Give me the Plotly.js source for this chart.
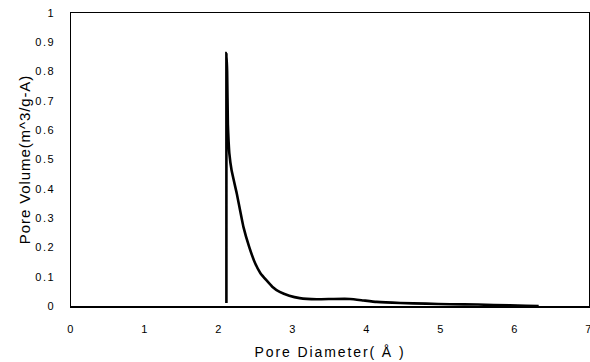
<!DOCTYPE html>
<html><head><meta charset="utf-8">
<script src="https://cdn.plot.ly/plotly-3.0.1.min.js"></script>
<style>
html,body{margin:0;padding:0;background:#fff}#chart{width:590px;height:362px}
.xtick text,.ytick text{letter-spacing:1.6px}
.g-xtitle text{letter-spacing:1.9px}
.g-ytitle text{letter-spacing:0.9px}
</style>
</head><body><div id="chart"></div>
<script>
const poreDiameter = [2.10, 2.10, 2.11, 2.12, 2.13, 2.14, 2.17, 2.24, 2.33, 2.41, 2.49, 2.56, 2.64, 2.72, 2.82, 2.95, 3.09, 3.32, 3.55, 3.77, 3.95, 4.13, 4.45, 4.80, 5.12, 5.50, 5.93, 6.15, 6.32];
const poreVolume   = [0.01, 0.863, 0.80, 0.62, 0.56, 0.52, 0.463, 0.384, 0.27, 0.20, 0.145, 0.112, 0.088, 0.066, 0.048, 0.035, 0.027, 0.023, 0.024, 0.024, 0.019, 0.014, 0.010, 0.008, 0.006, 0.005, 0.002, 0.001, 0.000];
const xTicks = [0, 1, 2, 3, 4, 5, 6, 7];
const yTicks = [0, 0.1, 0.2, 0.3, 0.4, 0.5, 0.6, 0.7, 0.8, 0.9, 1];

Plotly.newPlot('chart', [{
  x: poreDiameter, y: poreVolume, type: 'scatter', mode: 'lines',
  line: {color: '#000', width: 2.6, shape: 'spline', smoothing: 0.4},
  hoverinfo: 'none'
}], {
  width: 590, height: 362,
  margin: {l: 71, r: 1, t: 13, b: 56},
  paper_bgcolor: '#fff', plot_bgcolor: '#fff',
  showlegend: false,
  font: {family: 'Liberation Sans, Arial, sans-serif', color: '#000', size: 11},
  xaxis: {
    range: [0, 7], tickvals: xTicks, ticktext: xTicks.map(String),
    showgrid: false, zeroline: false, showline: true, mirror: true,
    linecolor: '#000', linewidth: 1.5, ticks: 'outside', ticklen: 12, tickcolor: 'rgba(0,0,0,0)',
    ticklabeloverflow: 'allow',
    tickfont: {size: 11},
    title: {text: 'Pore Diameter( Å )', font: {size: 14}, standoff: 13}
  },
  yaxis: {
    range: [0, 1], tickvals: yTicks, ticktext: yTicks.map(String),
    showgrid: false, zeroline: false, showline: true, mirror: true,
    linecolor: '#000', linewidth: 1.5, ticks: 'outside', ticklen: 12, tickcolor: 'rgba(0,0,0,0)',
    tickfont: {size: 11},
    title: {text: 'Pore Volume(m^3/g-A)', font: {size: 15}, standoff: 1}
  }
}, {staticPlot: true});
</script></body></html>
